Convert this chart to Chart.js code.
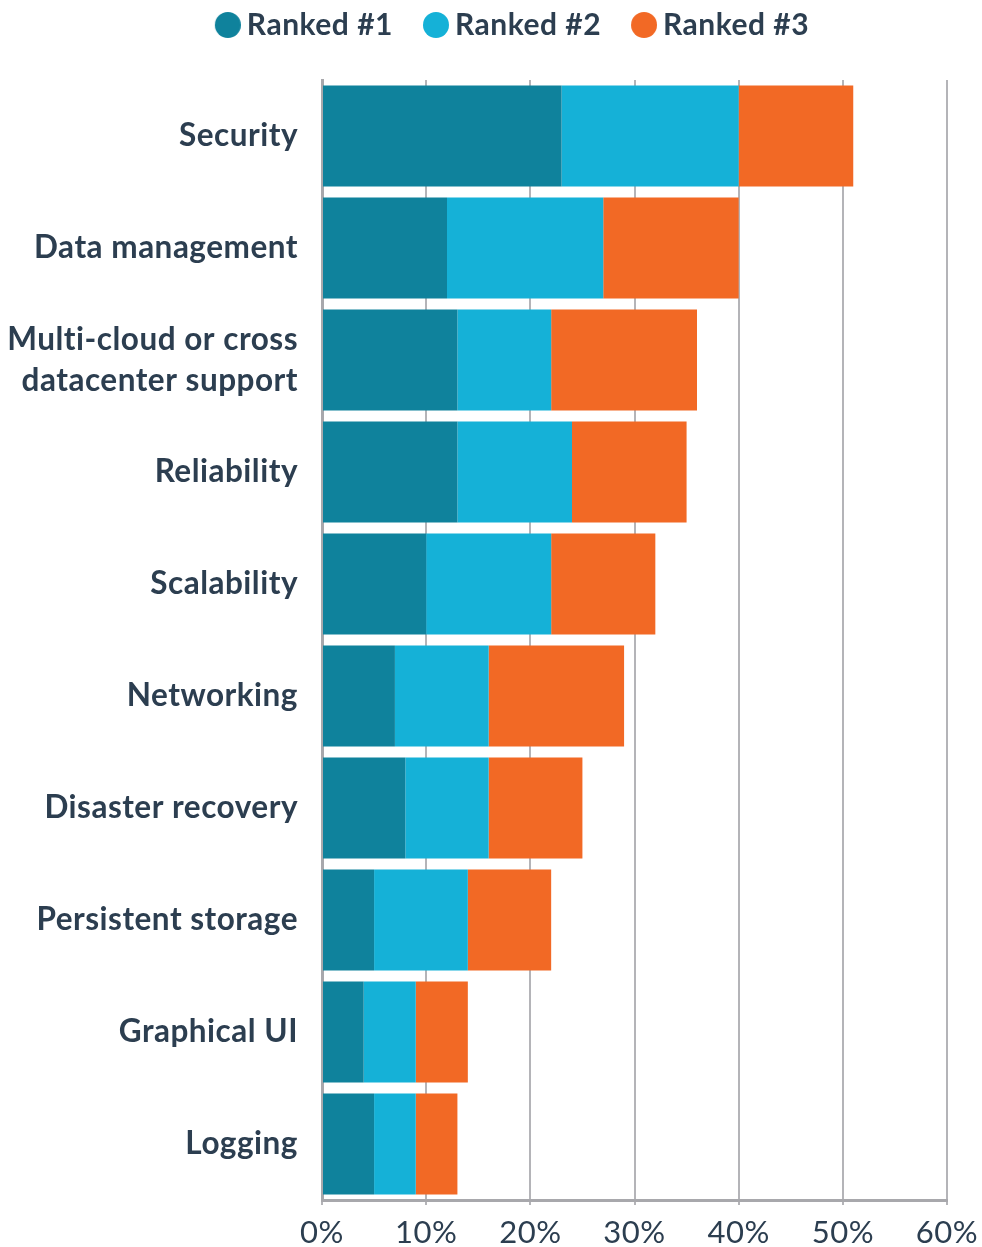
<!DOCTYPE html>
<html>
<head>
<meta charset="utf-8">
<script src="https://cdn.jsdelivr.net/npm/chart.js@4.4.1/dist/chart.umd.min.js"></script>
<style>
  html, body { margin: 0; padding: 0; background: #fff; }
  #wrap { width: 982px; height: 1247px; position: relative; }
</style>
</head>
<body>
<div id="wrap"><canvas id="rankChart"></canvas></div>
<script>
// priorities, top to bottom
const categories = [
  'Security',
  'Data management',
  ['Multi-cloud or cross', 'datacenter support'],
  'Reliability',
  'Scalability',
  'Networking',
  'Disaster recovery',
  'Persistent storage',
  'Graphical UI',
  'Logging'
];
// share of respondents (%) per rank
const ranked1 = [23, 12, 13, 13, 10, 7, 8, 5, 4, 5];
const ranked2 = [17, 15, 9, 11, 12, 9, 8, 9, 5, 4];
const ranked3 = [11, 13, 14, 11, 10, 13, 9, 8, 5, 4];
const seriesNames = ['Ranked #1', 'Ranked #2', 'Ranked #3'];
const seriesColors = ['#0f829c', '#15b1d7', '#f26925'];
const xMax = 60;
const xStep = 10;

const textColor = '#2c3e50';
const gridColor = '#b4b4b8';
const axisColor = '#a8a8ac';

// legend dot: 26px circle sitting at the right end of a wider transparent
// canvas, so the gap to the label stays tight while items stay spread out
const LEGEND_BOX = 38;
function legendDot(color) {
  const c = document.createElement('canvas');
  c.width = LEGEND_BOX + 18;
  c.height = 26;
  const g = c.getContext('2d');
  g.fillStyle = color;
  g.beginPath();
  g.arc(c.width - 13, 13, 13, 0, Math.PI * 2);
  g.fill();
  return c;
}
const legendDots = seriesColors.map(legendDot);

const datasets = [ranked1, ranked2, ranked3].map((vals, i) => ({
  label: seriesNames[i],
  data: vals,
  backgroundColor: seriesColors[i],
  borderWidth: 0,
  barPercentage: 0.9,
  categoryPercentage: 1.0
}));

// slight tracking on all canvas text (also keeps "ti" from ligating)
const textTracking = {
  id: 'textTracking',
  beforeLayout(chart) { chart.ctx.letterSpacing = '0.5px'; },
  beforeDraw(chart) { chart.ctx.letterSpacing = '0.5px'; }
};

new Chart(document.getElementById('rankChart'), {
  type: 'bar',
  data: { labels: categories, datasets: datasets },
  plugins: [textTracking],
  options: {
    indexAxis: 'y',
    responsive: true,
    maintainAspectRatio: false,
    animation: false,
    // uneven side padding nudges the centred legend a little to the right
    layout: { padding: { top: 1, left: 5, right: -16, bottom: 0 } },
    plugins: {
      tooltip: { enabled: false },
      legend: {
        position: 'top',
        labels: {
          usePointStyle: true,
          boxWidth: LEGEND_BOX,
          boxHeight: 18,
          pointStyleWidth: LEGEND_BOX,
          padding: 9,
          color: textColor,
          font: { family: 'Lato', size: 30, weight: 'bold' },
          generateLabels: chart =>
            Chart.defaults.plugins.legend.labels.generateLabels(chart)
              .map(item => ({ ...item, pointStyle: legendDots[item.datasetIndex] }))
        }
      },
      // empty title used as a spacer between legend and plot
      title: {
        display: true,
        text: '',
        weight: 500,
        padding: 0,
        font: { size: 30, lineHeight: 1 }
      }
    },
    scales: {
      x: {
        stacked: true,
        min: 0,
        max: xMax,
        ticks: {
          stepSize: xStep,
          padding: 12,
          color: textColor,
          font: { family: 'Lato', size: 31, lineHeight: 1 },
          callback: v => v + '%'
        },
        grid: { color: gridColor, lineWidth: 2, tickLength: 5 },
        border: { color: axisColor, width: 3 },
        afterFit: scale => {
          scale.height = 47;
          scale.paddingRight = 35;
        }
      },
      y: {
        stacked: true,
        ticks: {
          padding: 24,
          color: textColor,
          font: { family: 'Lato', size: 31.5, weight: 'bold', lineHeight: 1.3 }
        },
        grid: { display: false, drawTicks: false },
        border: { color: axisColor, width: 3 },
        afterFit: scale => {
          scale.width = 317;
          scale.paddingTop = 0;
          scale.paddingBottom = 0;
        }
      }
    }
  }
});
</script>
</body>
</html>
